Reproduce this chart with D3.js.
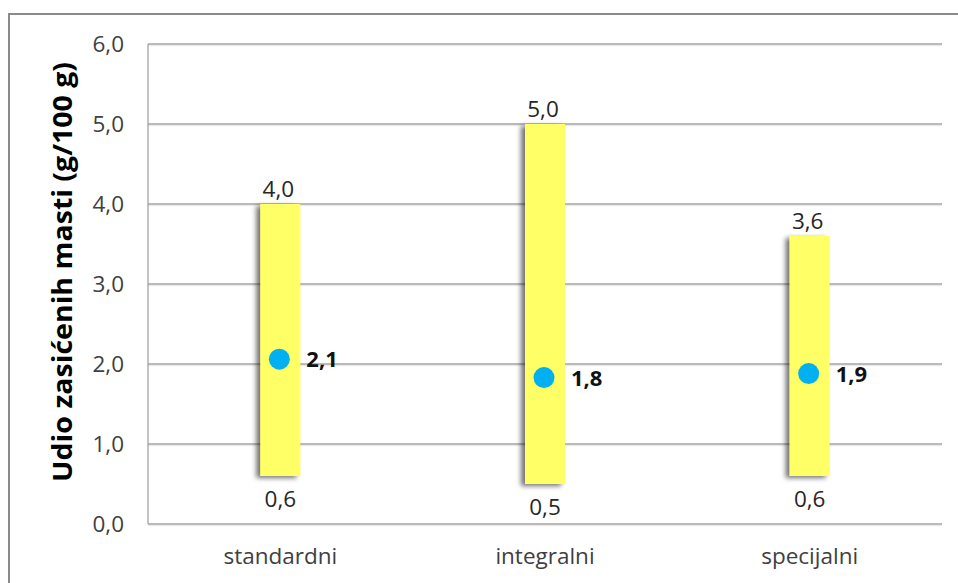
<!DOCTYPE html>
<html><head><meta charset="utf-8">
<script src="https://cdn.jsdelivr.net/npm/d3@7"></script>
<style>body{margin:0;background:#fff;}svg{display:block;}</style>
</head><body>
<script>
const categories = ["standardni", "integralni", "specijalni"];
const minValues = [0.6, 0.5, 0.6];
const maxValues = [4.0, 5.0, 3.6];
const meanValues = [2.06, 1.83, 1.88];
const yTicks = [0, 1, 2, 3, 4, 5, 6];
const yTitle = "Udio zasićenih masti (g/100 g)";

const W = 958, H = 583;
const m = {left: 148, right: 16, top: 44, bottom: 59};
const fmt = v => d3.format(".1f")(v).replace(".", ",");
const font = "'Open Sans', 'Noto Sans', sans-serif";

const svg = d3.select("body").append("svg").attr("width", W).attr("height", H);
const defs = svg.append("defs");
const f = defs.append("filter").attr("id", "sh").attr("x", "-50%").attr("y", "-10%").attr("width", "200%").attr("height", "120%");
f.append("feDropShadow").attr("dx", -4).attr("dy", 2).attr("stdDeviation", 2.5).attr("flood-color", "#000").attr("flood-opacity", 0.55);

// outer frame
svg.append("rect").attr("x", 9).attr("y", 14).attr("width", 980).attr("height", 620)
  .attr("fill", "none").attr("stroke", "#8a8a8a").attr("stroke-width", 2);

const x = d3.scaleBand().domain(categories).range([m.left, W - m.right]);
const y = d3.scaleLinear().domain([0, 6]).range([H - m.bottom, m.top]);

// gridlines (with soft shadow)
svg.append("g").selectAll("line").data(yTicks).join("line")
  .attr("x1", m.left).attr("x2", W - m.right)
  .attr("y1", d => y(d) + 1.6).attr("y2", d => y(d) + 1.6)
  .attr("stroke", "#000").attr("stroke-opacity", 0.08).attr("stroke-width", 1.5);
svg.append("g").selectAll("line").data(yTicks).join("line")
  .attr("x1", m.left).attr("x2", W - m.right)
  .attr("y1", d => y(d)).attr("y2", d => y(d))
  .attr("stroke", "#a3a3a3").attr("stroke-width", 1.5);
svg.append("line").attr("x1", m.left).attr("x2", m.left).attr("y1", y(6)).attr("y2", y(0))
  .attr("stroke", "#a3a3a3").attr("stroke-width", 1.3);

// y tick labels
const yAxis = d3.axisLeft(y).tickValues(yTicks).tickFormat(fmt).tickSize(0).tickPadding(24);
const ya = svg.append("g").attr("transform", `translate(${m.left},0)`).call(yAxis);
ya.select(".domain").remove();
ya.selectAll("text").attr("font-family", font).attr("font-size", 22.5).attr("fill", "#404040");

// x labels
const xAxis = d3.axisBottom(x).tickSize(0).tickPadding(24);
const xa = svg.append("g").attr("transform", `translate(0,${y(0)})`).call(xAxis);
xa.select(".domain").remove();
xa.selectAll("text").attr("font-family", font).attr("font-size", 22.5).attr("fill", "#404040");

const bw = 40;
const data = categories.map((c, i) => ({c, lo: minValues[i], hi: maxValues[i], mean: meanValues[i]}));
const cx = d => x(d.c) + x.bandwidth() / 2;

svg.append("g").selectAll("rect").data(data).join("rect")
  .attr("x", d => cx(d) - bw / 2).attr("width", bw)
  .attr("y", d => y(d.hi)).attr("height", d => y(d.lo) - y(d.hi))
  .attr("fill", "#ffff66").attr("filter", "url(#sh)");

svg.append("g").selectAll("text").data(data).join("text")
  .attr("x", d => cx(d) - 2).attr("y", d => y(d.hi) - 7)
  .attr("text-anchor", "middle").attr("font-family", font).attr("font-size", 22.5).attr("fill", "#262626")
  .text(d => fmt(d.hi));
svg.append("g").selectAll("text").data(data).join("text")
  .attr("x", d => cx(d)).attr("y", d => y(d.lo) + 31)
  .attr("text-anchor", "middle").attr("font-family", font).attr("font-size", 22.5).attr("fill", "#262626")
  .text(d => fmt(d.lo));

svg.append("g").selectAll("circle").data(data).join("circle")
  .attr("cx", d => cx(d) - 1).attr("cy", d => y(d.mean)).attr("r", 10.5).attr("fill", "#00b0f0");
svg.append("g").selectAll("text").data(data).join("text")
  .attr("x", d => cx(d) + 26).attr("y", d => y(d.mean)).attr("dy", "0.36em")
  .attr("font-family", font).attr("font-size", 22).attr("font-weight", "bold").attr("fill", "#111")
  .text(d => fmt(d.mean));

svg.append("text").attr("transform", `translate(72,272) rotate(-90)`)
  .attr("text-anchor", "middle").attr("font-family", font).attr("font-size", 26).attr("font-weight", "bold")
  .attr("textLength", 420).attr("lengthAdjust", "spacingAndGlyphs")
  .attr("fill", "#000").text(yTitle);
</script>
</body></html>
